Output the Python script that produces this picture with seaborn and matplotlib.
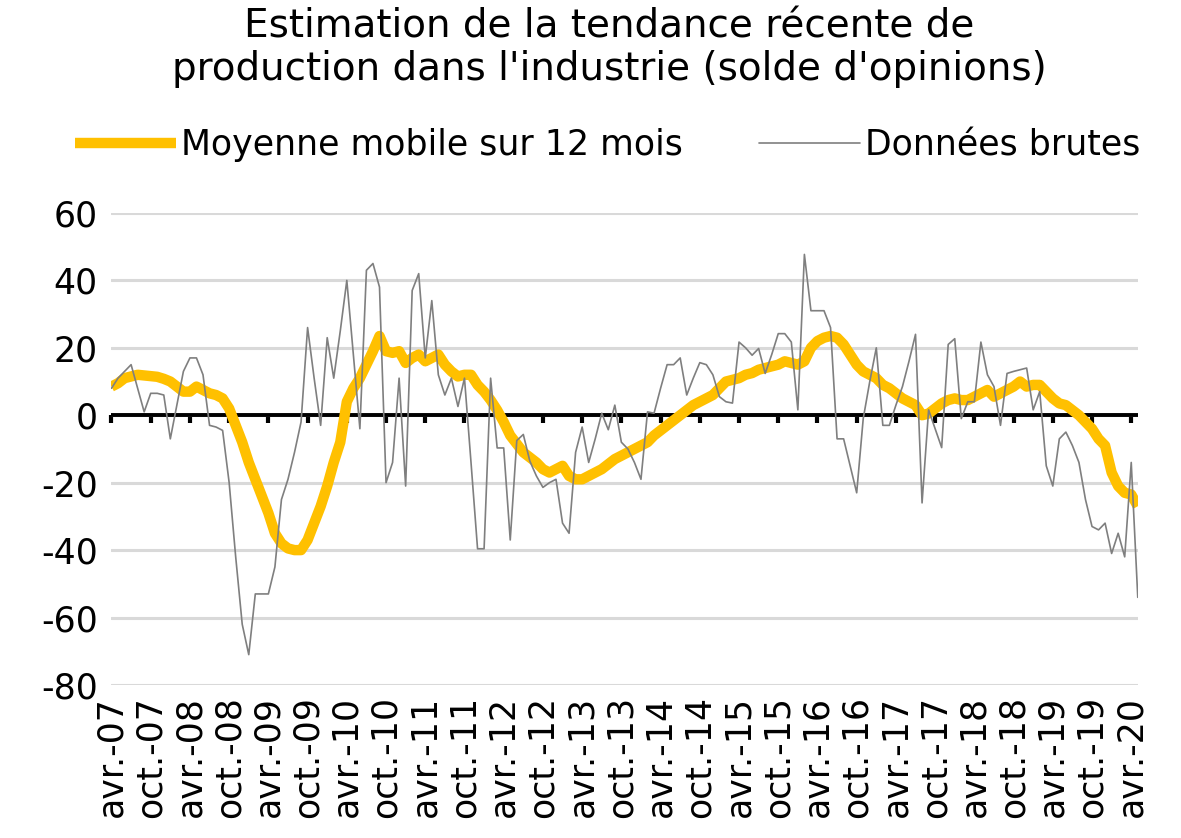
import numpy as np
import pandas as pd
import matplotlib
matplotlib.use('Agg')
import matplotlib.pyplot as plt
import seaborn as sns

# Monthly series, avr. 2007 -> mai 2020
raw = [8, 11, 13, 15, 8, 1, 6.5, 6.5, 6, -7,
       3, 13, 17, 17, 12, -3, -3.5, -4.5, -20, -42,
       -62, -71, -53, -53, -53, -45, -25, -19, -11, -2,
       26, 11, -3, 23, 11, 25, 40, 18, -4, 43,
       45, 38, -20, -14, 11, -21, 37, 42, 17, 34,
       12, 6, 11, 2.6, 11, -14, -39.6, -39.6, 11, -9.7,
       -9.7, -37, -7.5, -5.7, -13.6, -18, -21.4, -20, -19, -32,
       -35, -11, -3.5, -14, -7, 0.6, -4.3, 3, -8, -10,
       -14, -19, 1, 0.6, 8, 15, 15, 17, 6, 11,
       15.6, 15, 12, 5.5, 4, 3.6, 21.7, 20, 17.8, 19.8,
       12.4, 18, 24.2, 24.2, 21.7, 1.6, 47.7, 31, 31, 31,
       26, -7, -7, -15, -23, -1, 10, 20, -3, -3,
       3, 8.5, 16, 24, -26, 1.6, -4, -9.6, 21, 22.7,
       -1, 4, 4, 21.7, 12, 8.5, -3, 12.4, 13, 13.5,
       14, 1.6, 7, -15, -21, -7, -5, -9, -14, -25,
       -33, -34, -32, -41, -35, -42, -14, -54]

ma12 = [8.5, 9.5, 11, 11.5, 12, 11.8, 11.6, 11.4, 10.8, 10,
        8.5, 7, 7, 8.5, 7.5, 6.5, 6, 5, 2, -3,
        -8, -14, -19, -24, -29, -35, -38, -39.5, -40, -40,
        -37, -32, -27, -21, -14, -8, 4, 8, 11, 15,
        19, 23.5, 19, 18.5, 19, 15.5, 17, 18, 16, 17,
        18, 15, 13, 11.5, 12, 12, 9, 7, 4.5, 1.5,
        -2, -6, -8.5, -11, -12.5, -14, -16, -17, -16, -15,
        -18, -19, -19, -18, -17, -16, -14.5, -13, -12, -11,
        -10, -9, -8, -6, -4.5, -3, -1.5, 0, 1.5, 3,
        4, 5, 6, 8, 10, 10.5, 11, 12, 12.5, 13.5,
        14, 14.5, 15, 16, 15.5, 15, 16, 20, 22, 23,
        23.5, 23, 21, 18, 15, 13, 12, 11, 9, 8,
        6.5, 5, 4, 3, 0, 0.5, 2, 3.5, 4.5, 5,
        4.5, 4.5, 5.5, 6.5, 7.5, 5.5, 6.5, 7.5, 8.5, 10,
        8.5, 9, 9, 7, 5, 3.5, 3, 1.5, 0, -2,
        -4, -7, -9, -17, -21, -23, -23.5, -27]

tick_labels = ['avr.-07', 'oct.-07', 'avr.-08', 'oct.-08', 'avr.-09', 'oct.-09',
               'avr.-10', 'oct.-10', 'avr.-11', 'oct.-11', 'avr.-12', 'oct.-12',
               'avr.-13', 'oct.-13', 'avr.-14', 'oct.-14', 'avr.-15', 'oct.-15',
               'avr.-16', 'oct.-16', 'avr.-17', 'oct.-17', 'avr.-18', 'oct.-18',
               'avr.-19', 'oct.-19', 'avr.-20']
yticks = [-80, -60, -40, -20, 0, 20, 40, 60]

df = pd.DataFrame({'mois': np.arange(len(raw)), 'brut': raw, 'mm12': ma12})

sns.set_theme(style='white')
plt.rcParams['font.family'] = ['DejaVu Sans']

fig = plt.figure(figsize=(11.81, 8.38), dpi=100)
ax = fig.add_axes([0.0944, 0.1826, 0.869, 0.5633])

sns.lineplot(data=df, x='mois', y='mm12', ax=ax, color='#FFC000', lw=7.5,
             label='Moyenne mobile sur 12 mois', solid_capstyle='butt', zorder=3)
sns.lineplot(data=df, x='mois', y='brut', ax=ax, color='#7f7f7f', lw=1.2,
             label='Données brutes', zorder=4)

ax.set_xlim(0, len(raw) - 1)
ax.set_ylim(-80, 60)
ax.set_yticks(yticks)
ax.set_yticklabels([str(v) for v in yticks], fontsize=25, color='black')
ax.grid(axis='y', color='#d9d9d9', lw=2.2)
ax.set_axisbelow(True)
ax.set_xlabel('')
ax.set_ylabel('')
for s in ax.spines.values():
    s.set_visible(False)

# black zero line
ax.axhline(0, color='black', lw=2.8, zorder=2)

ax.set_xticks(np.arange(0, len(raw), 6))
ax.set_xticklabels(tick_labels, rotation=90, fontsize=25, color='black')
ax.tick_params(axis='x', length=0, pad=8)
ax.tick_params(axis='y', length=0, pad=10)

# tick marks hanging under the zero line
zero = ax.secondary_xaxis(0, transform=ax.transData)
zero.set_xticks(np.arange(0, len(raw), 6))
zero.tick_params(axis='x', direction='out', length=6, width=3, color='black',
                 labelbottom=False)
zero.spines['bottom'].set_visible(False)

fig.text(0.516, 1 - 8 / 838, "Estimation de la tendance récente de\nproduction dans l'industrie (solde d'opinions)",
         ha='center', va='top', fontsize=28, linespacing=1.12, color='black')

leg = ax.legend(loc='center left', bbox_to_anchor=(75 / 1181, 1 - 145 / 838),
                bbox_transform=fig.transFigure, ncol=2, frameon=False,
                fontsize=25, handlelength=2.9, handletextpad=0.15,
                columnspacing=2.2, borderpad=0, borderaxespad=0)
for t in leg.get_texts():
    t.set_color('black')

fig.savefig('out.png', dpi=100)
